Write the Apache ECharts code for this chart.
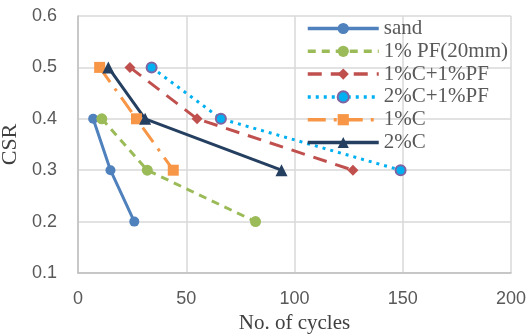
<!DOCTYPE html>
<html lang="en">
<head>
    <meta charset="UTF-8">
    <title>CSR vs cycles</title>
    <script src="https://cdn.jsdelivr.net/npm/echarts@6/dist/echarts.min.js"></script>
    <style>
        body { margin: 0; background: #fff; }
    </style>
</head>
<body>
    <div id="main" style="width: 527px;height:334px;"></div>
    <script>
        // data: [cycles, CSR]
        const sand = [[7, 0.4], [15, 0.3], [26, 0.2]];
        const pf20 = [[11, 0.4], [32, 0.3], [82, 0.2]];
        const c1pf1 = [[24, 0.5], [55, 0.4], [127, 0.3]];
        const c2pf1 = [[34, 0.5], [66, 0.4], [149, 0.3]];
        const c1 = [[10, 0.5], [27, 0.4], [44, 0.3]];
        const c2 = [[14, 0.5], [31, 0.4], [94, 0.3]];

        const names = ['sand', '1% PF(20mm)', '1%C+1%PF', '2%C+1%PF', '1%C', '2%C'];
        const xTicks = [0, 50, 100, 150, 200];
        const yTicks = [0.1, 0.2, 0.3, 0.4, 0.5, 0.6];

        const myChart = echarts.init(document.getElementById('main'));

        function line(name, data, color, type, symbol, size, extra) {
            return Object.assign({
                name: name,
                type: 'line',
                data: data,
                symbol: symbol,
                symbolSize: size,
                showSymbol: true,
                color: color,
                lineStyle: { color: color, width: 3, type: type },
                itemStyle: { color: color },
                animation: false
            }, extra || {});
        }

        let option = {
            backgroundColor: '#fff',
            grid: { left: 78, right: 16, top: 16, bottom: 61, outerBoundsMode: 'none', containLabel: false },
            legend: {
                data: names,
                orient: 'vertical',
                left: 301,
                top: 13,
                itemWidth: 71,
                itemHeight: 14,
                itemGap: 1.8,
                lineStyle: { width: 3.5 },
                textStyle: { fontFamily: 'Liberation Serif', fontSize: 21, lineHeight: 21, color: '#595959' }
            },
            xAxis: {
                type: 'value',
                min: 0, max: 200, interval: 50,
                name: 'No. of cycles',
                nameLocation: 'middle',
                nameGap: 38,
                nameTextStyle: { fontFamily: 'Liberation Serif', fontSize: 21, color: '#404040' },
                axisLine: { show: true, lineStyle: { color: '#bfbfbf', width: 1.5 } },
                axisTick: { show: false },
                axisLabel: {
                    margin: 17, fontFamily: 'Liberation Sans', fontSize: 18, color: '#595959',
                    formatter: v => xTicks.includes(v) ? String(v) : ''
                },
                splitLine: { lineStyle: { color: '#d9d9d9', width: 1.5 } }
            },
            yAxis: {
                type: 'value',
                min: 0.1, max: 0.6, interval: 0.1,
                name: 'CSR',
                nameLocation: 'middle',
                nameGap: 40,
                nameTextStyle: { fontFamily: 'Liberation Serif', fontSize: 22, color: '#404040' },
                axisLine: { show: true, lineStyle: { color: '#bfbfbf', width: 1.5 } },
                axisTick: { show: false },
                axisLabel: {
                    margin: 21, fontFamily: 'Liberation Sans', fontSize: 18, color: '#595959',
                    formatter: v => v.toFixed(1)
                },
                splitLine: { lineStyle: { color: '#d9d9d9', width: 1.5 } }
            },
            series: [
                line(names[0], sand, '#4f81bd', 'solid', 'circle', 10),
                line(names[1], pf20, '#9bbb59', [8, 6], 'circle', 11),
                line(names[2], c1pf1, '#c0504d', [14, 9], 'diamond', 11),
                line(names[3], c2pf1, '#00b0f0', [3, 5], 'circle', 10, {
                    itemStyle: { color: '#00b0f0', borderColor: '#8064a2', borderWidth: 2 }
                }),
                line(names[4], c1, '#f79646', [18, 8, 3, 8], 'rect', 11),
                line(names[5], c2, '#243f60', 'solid', 'triangle', 12)
            ]
        };

        myChart.setOption(option);
    </script>
</body>
</html>
